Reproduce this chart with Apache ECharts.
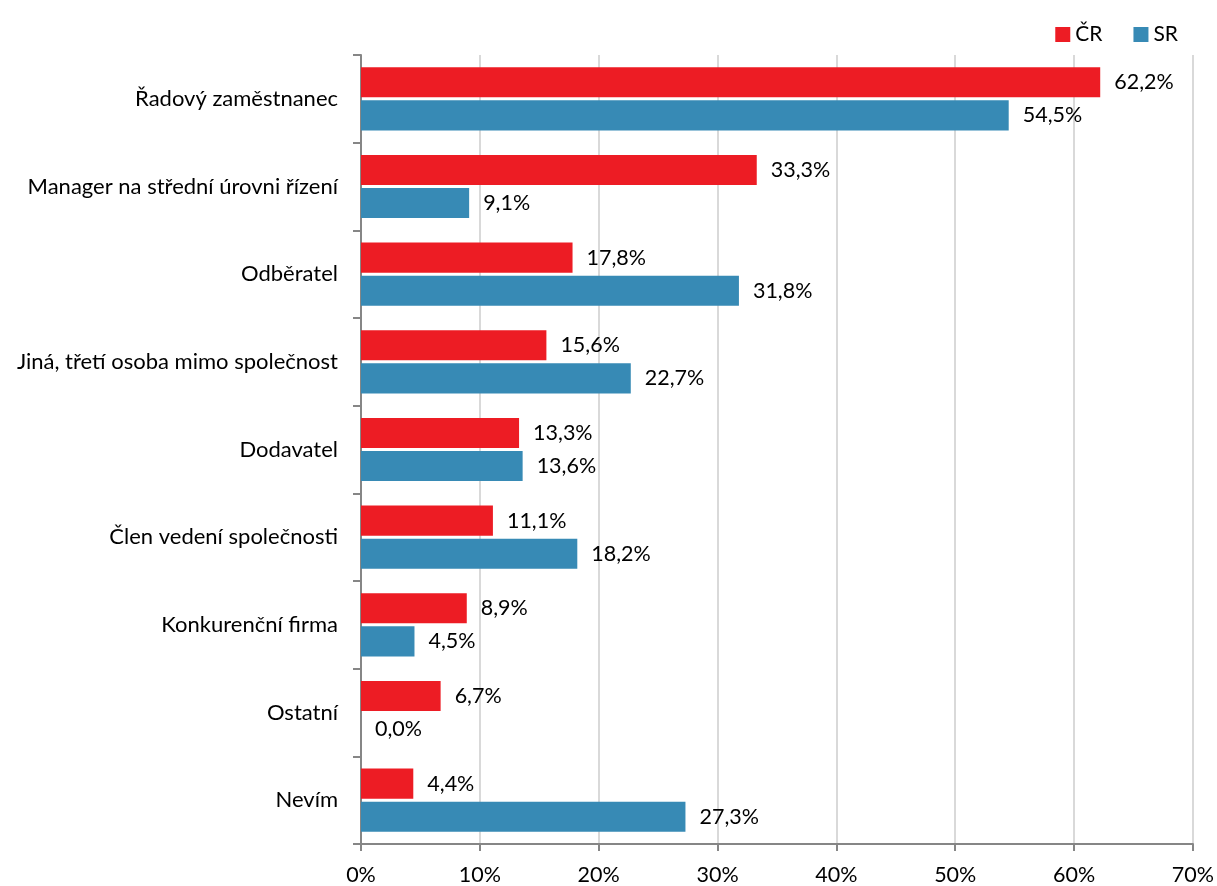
<!DOCTYPE html>
<html>
<head>
<meta charset="utf-8">
<script src="https://cdn.jsdelivr.net/npm/echarts@6/dist/echarts.min.js"></script>
<style>
  html, body { margin: 0; padding: 0; background: #fff; }
  #chart { width: 1217px; height: 886px; }
</style>
</head>
<body>
<div id="chart"></div>
<script>
// kategorie shora dolů
const categories = [
  "Řadový zaměstnanec",
  "Manager na střední úrovni řízení",
  "Odběratel",
  "Jiná, třetí osoba mimo společnost",
  "Dodavatel",
  "Člen vedení společnosti",
  "Konkurenční firma",
  "Ostatní",
  "Nevím"
];
const cr = [62.2, 33.3, 17.8, 15.6, 13.3, 11.1, 8.9, 6.7, 4.4];
const sr = [54.5, 9.1, 31.8, 22.7, 13.6, 18.2, 4.5, 0.0, 27.3];
const xTicks = [0, 10, 20, 30, 40, 50, 60, 70];

const font = "Lato, 'Open Sans', sans-serif";
const fmt = v => v.toFixed(1).replace(".", ",") + "%";

const chart = echarts.init(document.getElementById("chart"));

function barSeries(name, data, color) {
  return {
    name: name,
    type: "bar",
    data: data,
    barGap: "10%",
    barCategoryGap: "28%",
    itemStyle: { color: color },
    label: {
      show: true,
      position: "right",
      distance: 14,
      color: "#000",
      fontSize: 21.5,
      fontFamily: font,
      formatter: p => fmt(p.value)
    }
  };
}

chart.setOption({
  animation: false,
  textStyle: { fontFamily: font },
  legend: {
    right: 34,
    top: 19,
    itemWidth: 15,
    itemHeight: 15,
    itemGap: 31,
    icon: "rect",
    textStyle: { fontSize: 21, color: "#000", fontFamily: font },
    data: ["ČR", "SR"]
  },
  grid: { left: 361, right: 22, top: 55, bottom: 41 },
  xAxis: {
    type: "value",
    min: xTicks[0],
    max: xTicks[xTicks.length - 1],
    interval: 10,
    axisLine: { show: true, lineStyle: { color: "#868686", width: 2 } },
    axisTick: { show: true, length: 7, lineStyle: { color: "#868686", width: 2 } },
    axisLabel: {
      color: "#000",
      fontSize: 21.5,
      margin: 20,
      fontFamily: font,
      formatter: v => v + "%"
    },
    splitLine: { show: true, lineStyle: { color: "#d9d9d9", width: 2 } }
  },
  yAxis: {
    type: "category",
    inverse: true,
    data: categories,
    axisLine: { show: true, lineStyle: { color: "#868686", width: 2 } },
    axisTick: { show: true, length: 8, lineStyle: { color: "#868686", width: 2 } },
    axisLabel: { color: "#000", fontSize: 22, margin: 23, fontFamily: font }
  },
  series: [
    barSeries("ČR", cr, "#ed1c24"),
    barSeries("SR", sr, "#378ab5")
  ]
});
</script>
</body>
</html>
